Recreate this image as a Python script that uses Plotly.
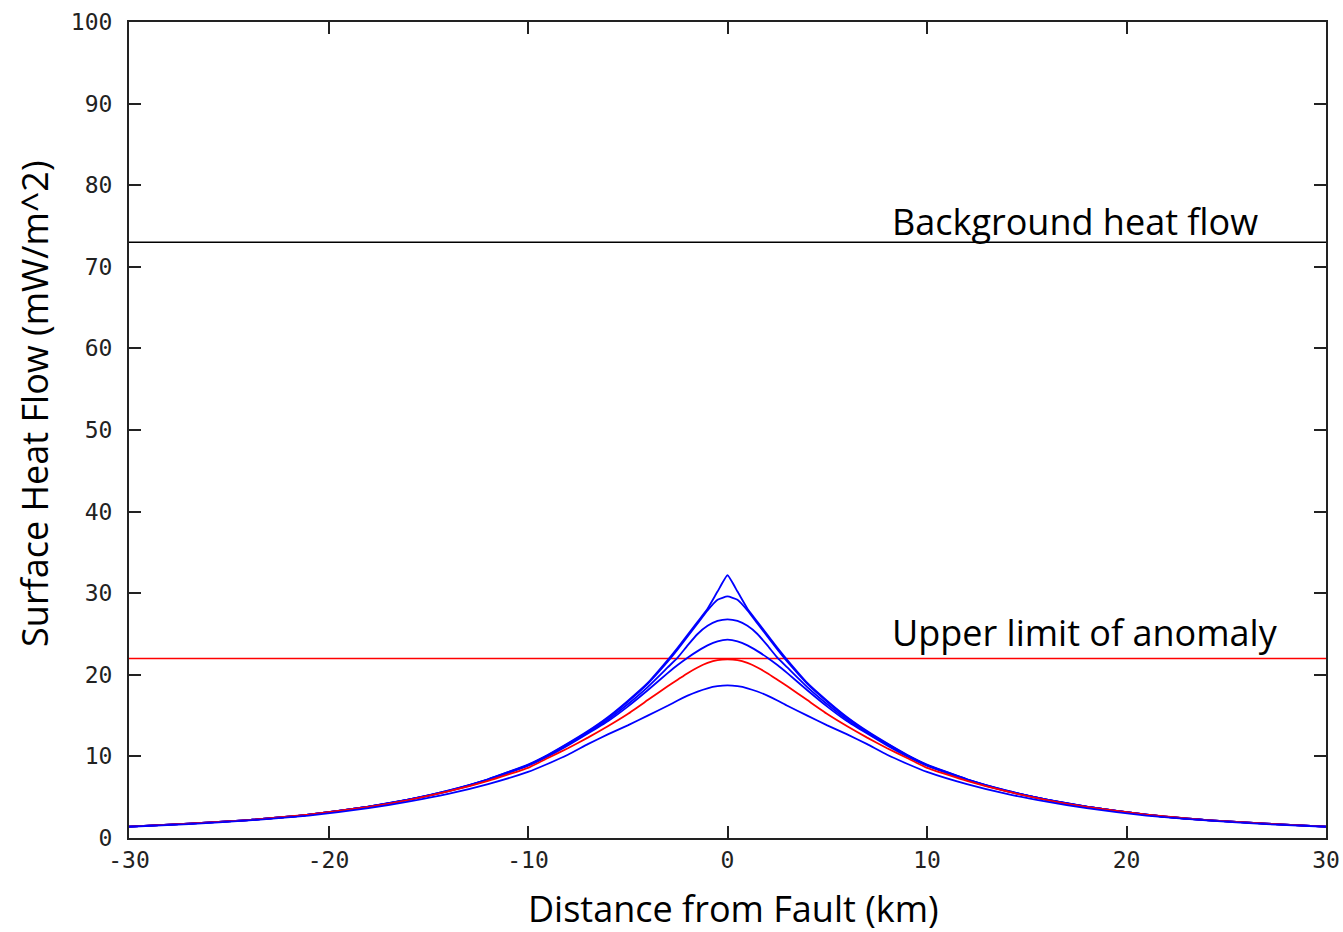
import plotly.graph_objects as go

# Distance from fault (km)
distance_km = [-30, -27, -24, -21, -18, -16, -14, -12, -10, -9, -8, -7, -6, -5, -4, -3, -2.5, -2, -1.5, -1, -0.5, 0,
               0.5, 1, 1.5, 2, 2.5, 3, 4, 5, 6, 7, 8, 9, 10, 12, 14, 16, 18, 21, 24, 27, 30]

# Surface heat flow (mW/m^2) for each model curve
blue_1 = [1.4, 1.75, 2.2, 2.85, 3.85, 4.7, 5.8, 7.2, 9.0, 10.2, 11.6, 13.1, 14.8, 16.8, 19.0, 21.8, 23.3, 24.9, 26.5, 28.1, 30.2, 32.2,
          30.2, 28.1, 26.5, 24.9, 23.3, 21.8, 19.0, 16.8, 14.8, 13.1, 11.6, 10.2, 9.0, 7.2, 5.8, 4.7, 3.85, 2.85, 2.2, 1.75, 1.4]
blue_2 = [1.4, 1.75, 2.2, 2.85, 3.85, 4.7, 5.8, 7.2, 8.95, 10.15, 11.55, 13.0, 14.7, 16.7, 18.9, 21.6, 23.1, 24.7, 26.3, 27.9, 29.2, 29.6,
          29.2, 27.9, 26.3, 24.7, 23.1, 21.6, 18.9, 16.7, 14.7, 13.0, 11.55, 10.15, 8.95, 7.2, 5.8, 4.7, 3.85, 2.85, 2.2, 1.75, 1.4]
blue_3 = [1.4, 1.75, 2.2, 2.85, 3.85, 4.7, 5.75, 7.15, 8.9, 10.1, 11.45, 12.9, 14.5, 16.4, 18.5, 20.9, 22.1, 23.6, 25.0, 26.0, 26.6, 26.8,
          26.6, 26.0, 25.0, 23.6, 22.1, 20.9, 18.5, 16.4, 14.5, 12.9, 11.45, 10.1, 8.9, 7.15, 5.75, 4.7, 3.85, 2.85, 2.2, 1.75, 1.4]
blue_4 = [1.4, 1.75, 2.2, 2.85, 3.85, 4.7, 5.75, 7.1, 8.85, 10.0, 11.35, 12.8, 14.3, 16.1, 18.1, 20.2, 21.2, 22.1, 22.9, 23.6, 24.1, 24.3,
          24.1, 23.6, 22.9, 22.1, 21.2, 20.2, 18.1, 16.1, 14.3, 12.8, 11.35, 10.0, 8.85, 7.1, 5.75, 4.7, 3.85, 2.85, 2.2, 1.75, 1.4]
red_curve = [1.4, 1.75, 2.2, 2.85, 3.8, 4.65, 5.7, 7.0, 8.6, 9.8, 11.0, 12.3, 13.7, 15.2, 16.9, 18.6, 19.4, 20.2, 20.9, 21.45, 21.8, 21.9,
             21.8, 21.45, 20.9, 20.2, 19.4, 18.6, 16.9, 15.2, 13.7, 12.3, 11.0, 9.8, 8.6, 7.0, 5.7, 4.65, 3.8, 2.85, 2.2, 1.75, 1.4]
blue_6 = [1.38, 1.7, 2.15, 2.75, 3.65, 4.45, 5.4, 6.6, 8.1, 9.1, 10.2, 11.5, 12.7, 13.8, 15.0, 16.2, 16.85, 17.45, 17.95, 18.35, 18.6, 18.7,
          18.6, 18.35, 17.95, 17.45, 16.85, 16.2, 15.0, 13.8, 12.7, 11.5, 10.2, 9.1, 8.1, 6.6, 5.4, 4.45, 3.65, 2.75, 2.15, 1.7, 1.38]

background_flow = 73
anomaly_limit = 22
x_range = [-30, 30]

x_ticks = [-30, -20, -10, 0, 10, 20, 30]
y_ticks = [0, 10, 20, 30, 40, 50, 60, 70, 80, 90, 100]

BLUE = "#0000ff"
RED = "#ff0000"

fig = go.Figure()
fig.add_trace(go.Scatter(x=x_range, y=[background_flow] * 2, mode="lines",
                         line=dict(color="black", width=1.5), showlegend=False))
fig.add_trace(go.Scatter(x=x_range, y=[anomaly_limit] * 2, mode="lines",
                         line=dict(color=RED, width=1.5), showlegend=False))

curves = [(blue_1, BLUE), (blue_2, BLUE), (blue_3, BLUE), (blue_4, BLUE), (red_curve, RED), (blue_6, BLUE)]
for ys, col in curves:
    fig.add_trace(go.Scatter(x=distance_km, y=ys, mode="lines",
                             line=dict(color=col, width=1.8, shape="spline", smoothing=0.4),
                             showlegend=False))

axis_common = dict(
    showgrid=False, zeroline=False, showline=True, linecolor="#222", linewidth=2,
    mirror="ticks", ticks="inside", ticklen=12, tickwidth=1.5, tickcolor="#222",
    tickfont=dict(family="DejaVu Sans Mono", size=23, color="#222"),
    automargin=False,
)

fig.update_xaxes(range=x_range, tickvals=x_ticks, ticktext=[str(v) for v in x_ticks], **axis_common)
fig.update_yaxes(range=[0, 100], tickvals=y_ticks, ticktext=[str(v) for v in y_ticks],
                 ticklabelstandoff=10, **axis_common)

title_font = dict(family="Open Sans", size=36, color="black")
fig.add_annotation(text="Background heat flow", x=8.15, y=background_flow, xref="x", yref="y",
                   xanchor="left", yanchor="bottom", showarrow=False, font=title_font, yshift=-6)
fig.add_annotation(text="Upper limit of anomaly", x=8.15, y=anomaly_limit, xref="x", yref="y",
                   xanchor="left", yanchor="bottom", showarrow=False, font=title_font, yshift=-1)
fig.add_annotation(text="Surface Heat Flow (mW/m^2)", x=-0.0785, y=0.532, xref="paper", yref="paper",
                   xanchor="center", yanchor="middle", textangle=-90, showarrow=False, font=title_font)
fig.add_annotation(text="Distance from Fault (km)", x=0.5054, y=-0.086, xref="paper", yref="paper",
                   xanchor="center", yanchor="middle", showarrow=False, font=title_font)

fig.update_layout(
    width=1343, height=932,
    margin=dict(l=129, r=17, t=22, b=94),
    paper_bgcolor="white", plot_bgcolor="white",
    showlegend=False,
)

fig.write_html("out.html")
